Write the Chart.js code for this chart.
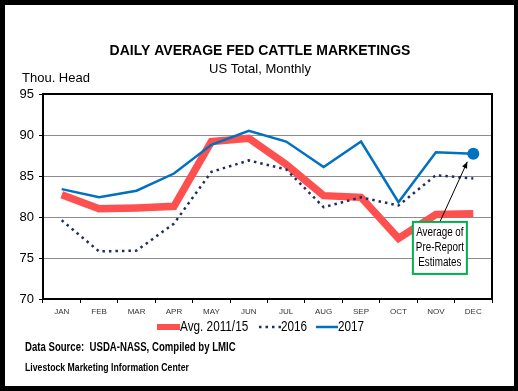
<!DOCTYPE html>
<html>
<head>
<meta charset="utf-8">
<script src="https://cdn.jsdelivr.net/npm/chart.js@4.4.1/dist/chart.umd.min.js"></script>
<style>
  body { margin: 0; background: #fff; }
  #wrap { width: 518px; height: 391px; }
</style>
</head>
<body>
<div id="wrap"><canvas id="chart" width="518" height="391"></canvas></div>
<script>
const months = ['JAN','FEB','MAR','APR','MAY','JUN','JUL','AUG','SEP','OCT','NOV','DEC'];
const avg1115 = [82.7, 81.0, 81.1, 81.3, 89.2, 89.6, 86.4, 82.6, 82.4, 77.4, 80.3, 80.4];
const y2016 = [79.6, 75.8, 75.9, 79.2, 85.5, 86.9, 85.8, 81.2, 82.4, 81.4, 85.1, 84.7];
const y2017 = [83.4, 82.4, 83.2, 85.3, 88.8, 90.5, 89.2, 86.1, 89.2, 81.8, 87.9, 87.7];

const FONT = '"Liberation Sans", Arial, sans-serif';

// narrow text (the original uses a condensed face)
function narrowText(c, txt, x, y, sx) {
  c.save();
  c.translate(x, y);
  c.scale(sx, 1);
  c.fillText(txt, 0, 0);
  c.restore();
}

const decor = {
  id: 'decor',
  beforeDraw(chart) {
    const c = chart.ctx;
    c.save();
    c.fillStyle = '#fff';
    c.fillRect(0, 0, chart.width, chart.height);
    c.restore();
  },
  afterDraw(chart) {
    const c = chart.ctx;
    const a = chart.chartArea;
    const xs = chart.scales.x, ys = chart.scales.y;
    c.save();

    // plot frame
    c.strokeStyle = '#000';
    c.lineWidth = 2;
    c.strokeRect(a.left, a.top, a.right - a.left, a.bottom - a.top);

    // titles
    c.fillStyle = '#000';
    c.textBaseline = 'middle';
    c.textAlign = 'center';
    c.font = 'bold 14px ' + FONT;
    c.fillText('DAILY AVERAGE FED CATTLE MARKETINGS', 260, 51);
    c.font = '13px ' + FONT;
    c.fillText('US Total, Monthly', 260, 69);
    c.textAlign = 'left';
    c.fillText('Thou. Head', 22, 78);

    // legend
    const ly = 327;
    c.lineWidth = 6;
    c.strokeStyle = '#ff5050';
    c.beginPath(); c.moveTo(157, ly); c.lineTo(180, ly); c.stroke();
    c.lineWidth = 2.5;
    c.strokeStyle = '#1f2d60';
    c.setLineDash([2.5, 4]);
    c.beginPath(); c.moveTo(259, ly); c.lineTo(281, ly); c.stroke();
    c.setLineDash([]);
    c.strokeStyle = '#0070c0';
    c.beginPath(); c.moveTo(316, ly); c.lineTo(338, ly); c.stroke();
    c.fillStyle = '#000';
    c.font = '14px ' + FONT;
    narrowText(c, 'Avg. 2011/15', 180, ly, 0.84);
    narrowText(c, '2016', 281, ly, 0.84);
    narrowText(c, '2017', 338, ly, 0.84);

    // footer
    c.font = 'bold 12px ' + FONT;
    narrowText(c, 'Data Source:  USDA-NASS, Compiled by LMIC', 25, 348, 0.8);
    c.font = 'bold 10px ' + FONT;
    narrowText(c, 'Livestock Marketing Information Center', 25, 368, 0.87);

    // annotation box + arrow to last 2017 point
    const pt = chart.getDatasetMeta(2).data[11];
    const bx = xs.getPixelForValue(10) + 4;
    const bTop = ys.getPixelForValue(79.4);
    const bw = 54, bh = 52;
    const sx = bx, sy = bTop;
    const ex = pt.x - 6, ey = pt.y + 8;
    c.strokeStyle = '#000';
    c.lineWidth = 1;
    c.beginPath(); c.moveTo(sx, sy); c.lineTo(ex, ey); c.stroke();
    const ang = Math.atan2(ey - sy, ex - sx);
    c.fillStyle = '#000';
    c.beginPath();
    c.moveTo(ex, ey);
    c.lineTo(ex - 7 * Math.cos(ang - 0.4), ey - 7 * Math.sin(ang - 0.4));
    c.lineTo(ex - 7 * Math.cos(ang + 0.4), ey - 7 * Math.sin(ang + 0.4));
    c.closePath(); c.fill();

    c.fillStyle = '#fff';
    c.fillRect(bx - bw / 2, bTop, bw, bh);
    c.strokeStyle = '#00b050';
    c.lineWidth = 2;
    c.strokeRect(bx - bw / 2, bTop, bw, bh);
    c.fillStyle = '#000';
    c.textAlign = 'center';
    c.font = '12px ' + FONT;
    narrowText(c, 'Average of', bx, bTop + 11, 0.82);
    narrowText(c, 'Pre-Report', bx, bTop + 26, 0.82);
    narrowText(c, 'Estimates', bx, bTop + 41, 0.82);

    // outer black frame
    c.fillStyle = '#000';
    c.fillRect(0, 0, 518, 5);
    c.fillRect(0, 386, 518, 5);
    c.fillRect(0, 0, 5, 391);
    c.fillRect(514, 0, 4, 391);
    c.restore();
  }
};

new Chart(document.getElementById('chart'), {
  type: 'line',
  data: {
    labels: months,
    datasets: [
      { label: 'Avg. 2011/15', data: avg1115, borderColor: '#ff5050', borderWidth: 7.5,
        pointRadius: 0, borderJoinStyle: 'miter', order: 3 },
      { label: '2016', data: y2016, borderColor: '#1f2d60', borderWidth: 2.5,
        borderDash: [2.5, 4], pointRadius: 0, order: 2 },
      { label: '2017', data: y2017, borderColor: '#0070c0', borderWidth: 2.5,
        pointRadius: ctx => ctx.dataIndex === 11 ? 6 : 0,
        pointBackgroundColor: '#0070c0', pointBorderWidth: 0, order: 1 }
    ]
  },
  options: {
    responsive: false,
    animation: false,
    layout: { padding: { top: 94, right: 26, left: 0, bottom: 0 } },
    plugins: { legend: { display: false }, tooltip: { enabled: false } },
    scales: {
      x: {
        offset: true,
        grid: { offset: true, drawOnChartArea: false, tickLength: 4, color: '#000' },
        border: { color: '#000', width: 2 },
        ticks: { font: { size: 8, family: FONT }, color: '#333', padding: 4, maxRotation: 0, autoSkip: false },
        afterFit(s) { s.height = 92; }
      },
      y: {
        min: 70, max: 95,
        ticks: { stepSize: 5, color: '#000', font: { size: 13, family: FONT }, padding: 5 },
        grid: { color: '#8c8c8c', lineWidth: 1, tickLength: 4, tickColor: '#000' },
        border: { color: '#000', width: 2 },
        afterFit(s) { s.width = 43; }
      }
    }
  },
  plugins: [decor]
});
</script>
</body>
</html>
